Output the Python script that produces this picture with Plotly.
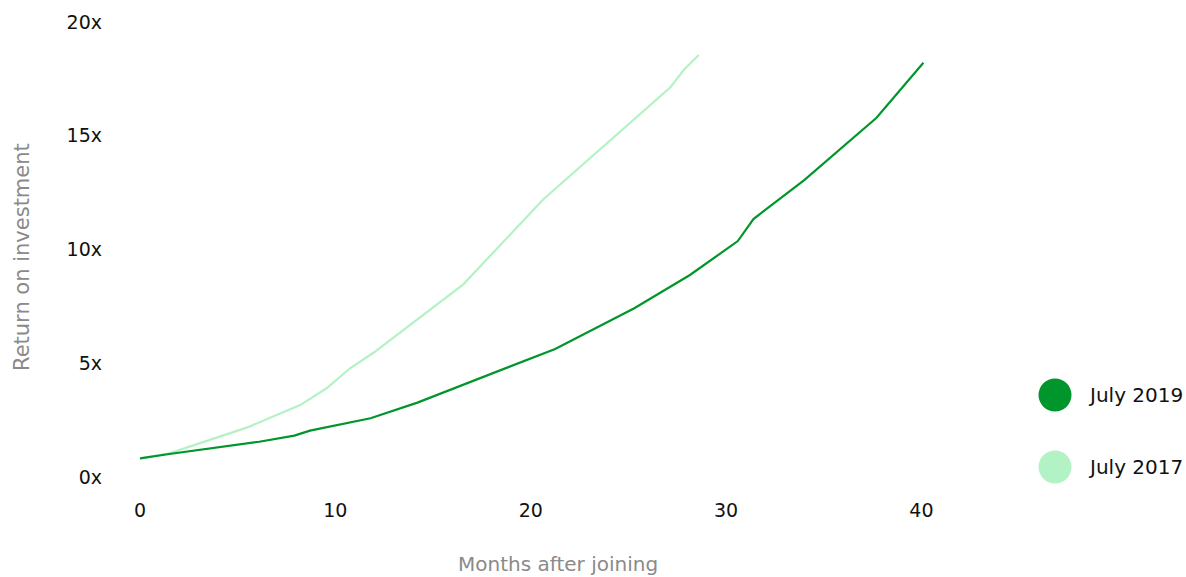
import plotly.graph_objects as go

# Return on investment by months after joining, for two cohorts
months_2019 = [0, 1.5, 6.1, 7.9, 8.7, 11.8, 14.2, 21.25, 25.3, 28.15, 30.6, 31.4, 34.0, 36.2, 37.7, 40.1]
roi_2019 = [0.82, 1.01, 1.55, 1.82, 2.04, 2.58, 3.27, 5.63, 7.42, 8.88, 10.37, 11.34, 13.05, 14.67, 15.79, 18.21]

months_2017 = [0, 1.5, 5.5, 8.2, 9.55, 10.75, 11.95, 16.55, 20.65, 27.15, 27.9, 28.6]
roi_2017 = [0.82, 1.04, 2.18, 3.16, 3.90, 4.78, 5.46, 8.47, 12.21, 17.13, 17.96, 18.55]

x_ticks = [0, 10, 20, 30, 40]
y_ticks = [0, 5, 10, 15, 20]
y_tick_labels = ["0x", "5x", "10x", "15x", "20x"]

series_names = ["July 2019", "July 2017"]
series_colors = ["#00962b", "#b3f2c5"]

FONT = "DejaVu Sans"

fig = go.Figure()
fig.add_trace(go.Scatter(x=months_2017, y=roi_2017, mode="lines", name=series_names[1],
                         line=dict(color=series_colors[1], width=2.2), showlegend=False))
fig.add_trace(go.Scatter(x=months_2019, y=roi_2019, mode="lines", name=series_names[0],
                         line=dict(color=series_colors[0], width=2.2), showlegend=False))

L, R, T, B = 140, 245, 22, 100
W, H = 1186, 577
pw, ph = W - L - R, H - T - B


def px_x(p):
    return (p - L) / pw


def px_y(p):
    return (H - B - p) / ph


shapes = []
annotations = []
# Custom legend: large dots with labels on the right
for name, color, cy in zip(series_names, series_colors, [395, 467]):
    shapes.append(dict(type="circle", xref="paper", yref="paper",
                       xsizemode="pixel", ysizemode="pixel",
                       xanchor=px_x(1055), yanchor=px_y(cy),
                       x0=-16.5, x1=16.5, y0=-16.5, y1=16.5,
                       fillcolor=color, line=dict(width=0)))
    annotations.append(dict(text=name, xref="paper", yref="paper",
                            x=px_x(1086), y=px_y(cy), xanchor="left", yanchor="middle",
                            showarrow=False, font=dict(family=FONT, size=20, color="#111111")))

annotations.append(dict(text="Months after joining", xref="paper", yref="paper",
                        x=px_x(558), y=px_y(564), xanchor="center", yanchor="middle",
                        showarrow=False, font=dict(family=FONT, size=20, color="#8a8a8a")))
annotations.append(dict(text="Return on investment", xref="paper", yref="paper",
                        x=px_x(22), y=px_y(257), xanchor="center", yanchor="middle",
                        textangle=-90, showarrow=False,
                        font=dict(family=FONT, size=21, color="#8a8a8a")))

fig.update_layout(
    width=W, height=H,
    margin=dict(l=L, r=R, t=T, b=B, pad=0),
    paper_bgcolor="white", plot_bgcolor="white",
    font=dict(family=FONT, size=19, color="#111111"),
    shapes=shapes, annotations=annotations,
    showlegend=False,
)
fig.update_xaxes(range=[0, 41], tickvals=x_ticks, showgrid=False, zeroline=False,
                 showline=False, ticks="", ticklabelstandoff=20,
                 tickfont=dict(family=FONT, size=19, color="#111111"))
fig.update_yaxes(range=[0, 20], tickvals=y_ticks, ticktext=y_tick_labels, showgrid=False,
                 zeroline=False, showline=False, ticks="", ticklabelstandoff=37,
                 tickfont=dict(family=FONT, size=19, color="#111111"))

fig.write_html("out.html", config={"displayModeBar": False})
